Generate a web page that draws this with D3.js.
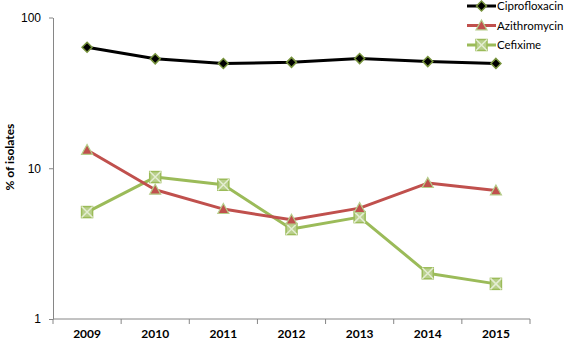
<!DOCTYPE html>
<html>
<head>
<meta charset="utf-8">
<script src="https://cdn.jsdelivr.net/npm/d3@7"></script>
<style>
  html, body { margin: 0; padding: 0; background: #fff; }
  svg { display: block; font-family: Lato, "Open Sans", sans-serif; }
</style>
</head>
<body>
<div id="chart"></div>
<script>
const years = ["2009", "2010", "2011", "2012", "2013", "2014", "2015"];
const ciprofloxacin = [63.5, 53.2, 49.5, 50.4, 53.4, 51, 49.6];
const azithromycin = [13.2, 7.2, 5.36, 4.55, 5.44, 7.97, 7.12];
const cefixime = [5.12, 8.74, 7.77, 3.95, 4.74, 2.01, 1.71];
const yTicks = [1, 10, 100];

const series = [
  { name: "Ciprofloxacin", values: ciprofloxacin, color: "#000000", marker: "diamond" },
  { name: "Azithromycin", values: azithromycin, color: "#C0504D", marker: "triangle" },
  { name: "Cefixime", values: cefixime, color: "#9BBB59", marker: "xsquare" }
];

const width = 567;
const height = 340;
const plot = { left: 53, right: 530, top: 17.5, bottom: 319 };

const svg = d3.select("#chart").append("svg")
  .attr("width", width)
  .attr("height", height);

const x = d3.scaleBand()
  .domain(years)
  .range([plot.left, plot.right]);

const y = d3.scaleLog()
  .domain([1, 100])
  .range([plot.bottom, plot.top]);

// y axis
svg.append("g")
  .attr("transform", `translate(${plot.left},0)`)
  .call(d3.axisLeft(y).tickValues(yTicks).tickSize(4).tickSizeOuter(0).tickPadding(8).tickFormat(d3.format("d")))
  .call((g) => g.select(".domain").attr("stroke", "#868686"))
  .call((g) => g.selectAll("line").attr("stroke", "#868686"))
  .call((g) => g.selectAll("text")
    .style("font-size", "12px")
    .attr("fill", "#000"));

// x axis, ticks sit between categories like Excel
const xAxis = svg.append("g")
  .attr("transform", `translate(0,${plot.bottom})`);

xAxis.append("line")
  .attr("x1", plot.left)
  .attr("x2", plot.right)
  .attr("stroke", "#868686");

const boundaries = years.map((yr) => x(yr)).concat([x(years[years.length - 1]) + x.step()]);
xAxis.selectAll("line.tick")
  .data(boundaries)
  .enter()
  .append("line")
  .attr("class", "tick")
  .attr("x1", (d) => d)
  .attr("x2", (d) => d)
  .attr("y1", 0)
  .attr("y2", 5)
  .attr("stroke", "#868686");

xAxis.selectAll("text")
  .data(years)
  .enter()
  .append("text")
  .attr("x", (d) => x(d) + x.bandwidth() / 2)
  .attr("y", 19)
  .attr("text-anchor", "middle")
  .style("font-size", "12px")
  .style("font-weight", "bold")
  .text((d) => d);

// y title
svg.append("text")
  .attr("transform", "translate(14,157) rotate(-90)")
  .attr("text-anchor", "middle")
  .style("font-size", "12px")
  .style("font-weight", "bold")
  .text("% of isolates");

function drawMarker(g, type, cx, cy) {
  if (type === "diamond") {
    const r = 5;
    g.append("path")
      .attr("d", `M${cx},${cy - r}L${cx + r},${cy}L${cx},${cy + r}L${cx - r},${cy}Z`)
      .attr("fill", "#000")
      .attr("stroke", "#77933C")
      .attr("stroke-width", 1.5);
  } else if (type === "triangle") {
    const r = 5.5;
    g.append("path")
      .attr("d", `M${cx},${cy - r}L${cx + r},${cy + r * 0.8}L${cx - r},${cy + r * 0.8}Z`)
      .attr("fill", "#C0504D")
      .attr("stroke", "#B5CE8A")
      .attr("stroke-width", 1.2);
  } else {
    const r = 5.5;
    g.append("rect")
      .attr("x", cx - r)
      .attr("y", cy - r)
      .attr("width", r * 2)
      .attr("height", r * 2)
      .attr("fill", "#B9D08C")
      .attr("stroke", "#9BBB59")
      .attr("stroke-width", 1.5);
    g.append("path")
      .attr("d", `M${cx - r},${cy - r}L${cx + r},${cy + r}M${cx + r},${cy - r}L${cx - r},${cy + r}`)
      .attr("stroke", "#E4EDD3")
      .attr("stroke-width", 1.5);
  }
}

const line = d3.line()
  .x((d, i) => x(years[i]) + x.bandwidth() / 2)
  .y((d) => y(d));

// draw lines bottom to top so ciprofloxacin stays on top
[...series].reverse().forEach((s) => {
  const g = svg.append("g");
  g.append("path")
    .datum(s.values)
    .attr("fill", "none")
    .attr("stroke", s.color)
    .attr("stroke-width", 3)
    .attr("stroke-linejoin", "round")
    .attr("d", line);
  s.values.forEach((v, i) => {
    drawMarker(g, s.marker, x(years[i]) + x.bandwidth() / 2, y(v));
  });
});

// legend
const legend = svg.append("g")
  .attr("transform", "translate(467,6)");

series.forEach((s, i) => {
  const item = legend.append("g")
    .attr("transform", `translate(0,${i * 19.5})`);
  item.append("line")
    .attr("x1", 0)
    .attr("x2", 29)
    .attr("stroke", s.color)
    .attr("stroke-width", 3);
  drawMarker(item, s.marker, 14.5, 0);
  item.append("text")
    .attr("x", 30)
    .attr("y", 4)
    .style("font-size", "11.5px")
    .text(s.name);
});
</script>
</body>
</html>
